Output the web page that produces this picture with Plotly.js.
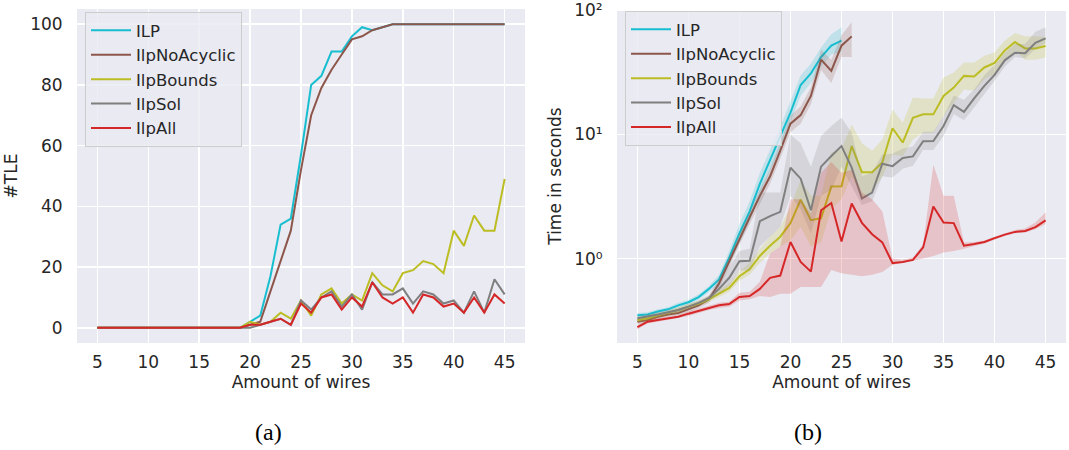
<!DOCTYPE html>
<html><head><meta charset="utf-8">
<script src="https://cdn.plot.ly/plotly-3.0.1.min.js"></script>
<style>html,body{margin:0;padding:0;background:#fff;}#chart{width:1069px;height:450px;}</style>
</head><body><div id="chart"></div>
<script>
// ---------- data ----------
const wires = [5,6,7,8,9,10,11,12,13,14,15,16,17,18,19,20,21,22,23,24,25,26,27,28,29,30,31,32,33,34,35,36,37,38,39,40,41,42,43,44,45];
const seriesNames = ["ILP","IlpNoAcyclic","IlpBounds","IlpSol","IlpAll"];
const seriesColors = ["#17becf","#8c564b","#bcbd22","#7f7f7f","#d62728"];
const bandColors = ["rgba(23,190,207,0.2)","rgba(140,86,75,0.2)","rgba(188,189,34,0.2)","rgba(127,127,127,0.2)","rgba(214,39,40,0.2)"];

// (a) number of time-limit exceedances
const tleILP      = [0,0,0,0,0,0,0,0,0,0,0,0,0,0,0, 2,4,17,34,36,57,80,83,91,91,96,99,98,99, 100,100,100,100,100,100,100,100,100,100,100,100];
const tleNoAcyc   = [0,0,0,0,0,0,0,0,0,0,0,0,0,0,0, 1,2,12,22,32,52,70,79,85,90,95,96,98,99, 100,100,100,100,100,100,100,100,100,100,100,100];
const tleBounds   = [0,0,0,0,0,0,0,0,0,0,0,0,0,0,0, 2,1,2,5,3,9,4,11,13,8,11,9,18,14,12,18,19,22,21,18,32,27,37,32,32,49];
const tleSol      = [0,0,0,0,0,0,0,0,0,0,0,0,0,0,0, 0,1,2,3,1,9,6,10,12,7,11,6,15,11,11,13,8,12,11,8,9,5,12,5,16,11];
const tleAll      = [0,0,0,0,0,0,0,0,0,0,0,0,0,0,0, 1,1,2,3,1,8,5,10,11,6,10,7,15,10,8,10,5,11,10,7,8,5,10,5,11,8];

// (b) time in seconds (mean, lower, upper of band)
const wiresILP = wires.slice(0,21);   // 5..25
const wiresNoAcyc = wires.slice(0,22); // 5..26
const timeILP    = [0.35,0.355,0.375,0.39,0.42,0.445,0.49,0.57,0.68,1.02,1.6,2.4,4.0,6.2,9.4,15,25,31,42,52,57];
const timeILPLo  = [0.335,0.34,0.36,0.375,0.4,0.425,0.465,0.54,0.62,0.9,1.35,2.0,3.3,5.1,7.8,12.5,20.5,26,35,44,46];
const timeILPHi  = [0.365,0.37,0.39,0.405,0.44,0.465,0.515,0.6,0.74,1.15,1.9,2.9,4.9,7.6,11.5,18.5,30,37,50,64,73];

const timeNoAcyc   = [0.31,0.32,0.34,0.355,0.365,0.39,0.42,0.47,0.63,0.95,1.45,2.15,3.2,4.6,7.4,12.2,14.3,20.4,40,32.5,51.8,61.6];
const timeNoAcycLo = [0.295,0.305,0.325,0.34,0.35,0.37,0.4,0.44,0.58,0.85,1.3,1.9,2.8,4.0,6.4,10.4,12.2,17.5,33,26,42,42];
const timeNoAcycHi = [0.325,0.335,0.355,0.37,0.38,0.41,0.44,0.5,0.69,1.05,1.6,2.4,3.6,5.3,8.6,14.2,16.8,24,48,40,63,80];

const timeBounds   = [0.32,0.33,0.35,0.365,0.385,0.41,0.435,0.47,0.52,0.58, 0.72,0.82,1.05,1.27,1.5,1.93,2.98,2.04,2.12,3.8, 3.82,8.05,4.96,4.96,5.95,11.2,8.6,13.6,14.5,14.5, 20.4,23.8,29.6,29.3,34.6,37.6,47.5,55.4,49.3,49.3,51.5];
const timeBoundsLo = [0.305,0.315,0.335,0.35,0.365,0.39,0.415,0.445,0.49,0.54, 0.66,0.74,0.92,1.1,1.25,1.4,1.8,1.25,1.35,2.5, 3.0,4.6,3.1,3.5,4.6,6.9,6.7,9.1,10.3,10.3, 14.1,18,23,22.5,27.8,30.5,39.3,47.2,40,40,41.7];
const timeBoundsHi = [0.335,0.345,0.365,0.38,0.405,0.43,0.46,0.5,0.56,0.63, 0.79,0.92,1.2,1.5,1.8,2.6,4.3,3.2,3.2,7.1, 7.6,12,8.5,7.4,9.1,15.9,12.4,19.8,19.5,19.5, 28.7,31.5,38,38,43,45.7,57,65.6,61.6,61.6,60.5];

const timeSol   = [0.33,0.34,0.355,0.37,0.385,0.41,0.44,0.48,0.57,0.7, 0.95,0.96,2.0,2.2,2.38,5.4,4.4,2.45,5.5,6.7, 8.05,5.4,3.05,3.4,5.8,5.55,6.45,6.65,8.8,8.85, 11.7,17.2,15.2,19.5,24.6,30.2,39.5,45.5,45,54.7,59.4];
const timeSolLo = [0.315,0.325,0.34,0.355,0.37,0.39,0.42,0.455,0.52,0.6, 0.8,0.8,1.25,1.5,1.8,3.2,2.5,1.6,3.2,3.6, 5.5,3.8,2.7,2.9,4.6,4.5,5.3,5.6,7.5,7.5, 9.7,14.5,13,16.5,21,27,35,42,41,49,54];
const timeSolHi = [0.345,0.355,0.37,0.385,0.4,0.43,0.46,0.505,0.62,0.85, 1.15,1.2,3.4,3.4,3.4,10,8.5,5.5,9.7,11.7, 13.6,10.3,4.6,4.9,6.9,7.0,7.7,8.0,10.5,10.5, 14.1,20.6,19,23,30,36,45.5,53.5,53.5,67,73];

const timeAll   = [0.28,0.31,0.32,0.33,0.34,0.36,0.38,0.40,0.42,0.43, 0.49,0.50,0.57,0.70,0.73,1.36,0.94,0.785,2.45,2.8, 1.37,2.78,1.94,1.57,1.35,0.92,0.94,0.975,1.23,2.63, 1.95,1.93,1.27,1.31,1.36,1.46,1.56,1.64,1.67,1.79,2.03];
const timeAllLo = [0.27,0.3,0.31,0.32,0.33,0.345,0.365,0.385,0.4,0.41, 0.46,0.47,0.5,0.49,0.52,0.52,0.59,0.59,0.59,0.81, 0.76,0.74,0.72,0.74,0.78,0.89,0.92,0.96,1.0,1.05, 1.12,1.15,1.2,1.26,1.32,1.42,1.52,1.6,1.62,1.72,1.9];
const timeAllHi = [0.29,0.32,0.33,0.34,0.35,0.375,0.395,0.415,0.44,0.45, 0.53,0.54,0.65,1.1,1.25,3.0,3.0,2.3,4.9,6.0, 4.9,5.2,3.4,3.0,2.4,1.0,0.98,1.02,1.3,5.7, 3.2,3.2,1.35,1.36,1.4,1.5,1.6,1.7,1.75,1.95,2.36];

const xTicks = [5,10,15,20,25,30,35,40,45];
const yTicksA = [0,20,40,60,80,100];
const yTicksB = [1,10,100];
const yTickTextB = ["10\u2070","10\u00B9","10\u00B2"];

// ---------- traces ----------
const FONT = "DejaVu Sans, Verdana, sans-serif";
const TXT = "#262626";
const FS = 17;
const traces = [];
const tleData = [tleILP, tleNoAcyc, tleBounds, tleSol, tleAll];
tleData.forEach((ys,i)=>{
  traces.push({x: wires, y: ys, type:"scatter", mode:"lines", name: seriesNames[i],
    line:{color: seriesColors[i], width:2}, xaxis:"x", yaxis:"y", legend:"legend"});
});
const timeX = [wiresILP, wiresNoAcyc, wires, wires, wires];
const timeM = [timeILP, timeNoAcyc, timeBounds, timeSol, timeAll];
const timeL = [timeILPLo, timeNoAcycLo, timeBoundsLo, timeSolLo, timeAllLo];
const timeH = [timeILPHi, timeNoAcycHi, timeBoundsHi, timeSolHi, timeAllHi];
timeM.forEach((ys,i)=>{
  traces.push({x: timeX[i], y: timeL[i], type:"scatter", mode:"lines", line:{width:0, color:bandColors[i]},
    showlegend:false, hoverinfo:"skip", xaxis:"x2", yaxis:"y2"});
  traces.push({x: timeX[i], y: timeH[i], type:"scatter", mode:"lines", line:{width:0, color:bandColors[i]},
    fill:"tonexty", fillcolor: bandColors[i], showlegend:false, hoverinfo:"skip", xaxis:"x2", yaxis:"y2"});
  traces.push({x: timeX[i], y: ys, type:"scatter", mode:"lines", name: seriesNames[i],
    line:{color: seriesColors[i], width:2}, xaxis:"x2", yaxis:"y2", legend:"legend2"});
});

const W = 1069, H = 450;
const axisCommon = {
  showline:false, zeroline:false, gridcolor:"#ffffff", gridwidth:1.5,
  ticks:"outside", tickcolor:"rgba(0,0,0,0)", ticklabeloverflow:"allow",
  tickfont:{family:FONT, size:FS, color:TXT}
};
const legendCommon = {
  bgcolor:"rgba(234,234,242,0.8)", bordercolor:"#cccccc", borderwidth:1,
  font:{family:FONT, size:16.5, color:TXT}, xanchor:"left", yanchor:"top",
  tracegroupgap:0, traceorder:"normal", itemwidth:40
};
const titleFont = {family:FONT, size:FS, color:TXT};
const layout = {
  width:W, height:H, margin:{l:0,r:0,t:0,b:0},
  paper_bgcolor:"#ffffff", plot_bgcolor:"#eaeaf2",
  font:{family:FONT, color:TXT},
  xaxis: Object.assign({}, axisCommon, {domain:[77/W, 525/W], range:[3,47], tickvals:xTicks, anchor:"y", ticklen:4,
    title:{text:"Amount of wires", font:titleFont, standoff:3}}),
  yaxis: Object.assign({}, axisCommon, {domain:[1-343/H, 1-9/H], range:[-5,105], tickvals:yTicksA, anchor:"x", ticklen:10,
    title:{text:"#TLE", font:titleFont, standoff:8}}),
  xaxis2: Object.assign({}, axisCommon, {domain:[617/W, 1066/W], range:[3,47], tickvals:xTicks, anchor:"y2", ticklen:4,
    title:{text:"Amount of wires", font:titleFont, standoff:3}}),
  yaxis2: Object.assign({}, axisCommon, {domain:[1-343/H, 1-9/H], type:"log", range:[-0.68, 2.01],
    tickvals:yTicksB, ticktext:yTickTextB, anchor:"x2", ticklen:10,
    title:{text:"Time in seconds", font:titleFont, standoff:8}}),
  legend: Object.assign({}, legendCommon, {x:85/W, y:1-12/H}),
  legend2: Object.assign({}, legendCommon, {x:625/W, y:1-11/H}),
  showlegend:true,
  annotations:[
    {text:"(a)", xref:"paper", yref:"paper", x:268/W, y:1-432/H, showarrow:false, xanchor:"center", yanchor:"middle",
     font:{family:"Liberation Serif, DejaVu Serif, serif", size:24, color:"#000"}},
    {text:"(b)", xref:"paper", yref:"paper", x:808/W, y:1-432/H, showarrow:false, xanchor:"center", yanchor:"middle",
     font:{family:"Liberation Serif, DejaVu Serif, serif", size:24, color:"#000"}}
  ]
};
Plotly.newPlot("chart", traces, layout, {displayModeBar:false, staticPlot:true});
</script>
</body></html>
